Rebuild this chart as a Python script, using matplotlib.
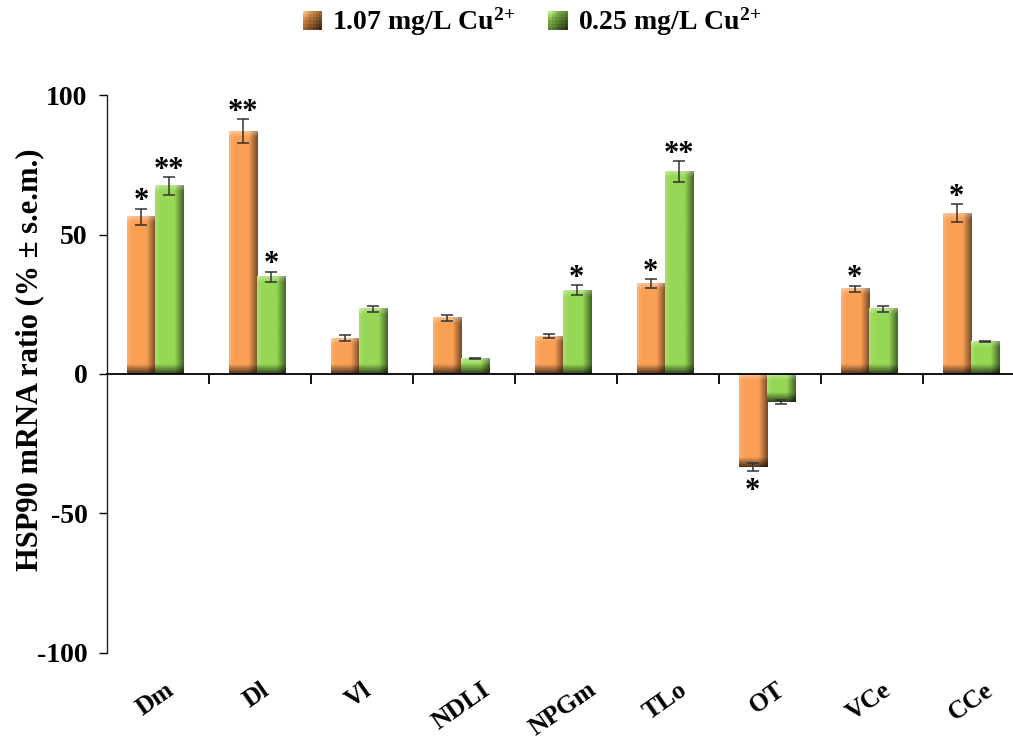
import numpy as np
import matplotlib
matplotlib.use("Agg")
import matplotlib.pyplot as plt
from matplotlib.patches import Rectangle
from matplotlib.legend_handler import HandlerBase
from matplotlib.transforms import blended_transform_factory

# data
regions = ["Dm", "Dl", "Vl", "NDLI", "NPGm", "TLo", "OT", "VCe", "CCe"]
high_cu = [56.3, 87.1, 12.9, 20.1, 13.6, 32.3, -33.3, 30.5, 57.7]
high_err = [3.0, 4.3, 0.9, 1.2, 0.8, 1.6, 1.5, 1.2, 3.1]
low_cu = [67.4, 34.8, 23.3, 5.5, 30.1, 72.5, -10.0, 23.3, 11.5]
low_err = [3.2, 1.8, 1.2, 0.3, 1.7, 3.7, 0.6, 1.2, 0.2]
high_stars = ["*", "**", "", "", "", "*", "*", "*", "*"]
low_stars = ["**", "*", "", "", "*", "**", "", "", ""]
series_names = ["1.07 mg/L Cu$^{2{+}}$", "0.25 mg/L Cu$^{2{+}}$"]

ORANGE = np.array([250, 160, 85]) / 255
GREEN = np.array([150, 216, 85]) / 255

plt.rcParams["font.family"] = "Liberation Serif"
plt.rcParams["font.weight"] = "bold"
plt.rcParams["mathtext.fontset"] = "custom"
plt.rcParams["mathtext.rm"] = "Liberation Serif:bold"
plt.rcParams["mathtext.bf"] = "Liberation Serif:bold"
plt.rcParams["mathtext.it"] = "Liberation Serif:bold"
plt.rcParams["mathtext.default"] = "rm"

fig = plt.figure(figsize=(10.13, 7.4), dpi=100)
ax = fig.add_axes([0.1056, 0.1176, 0.906, 0.754])
PX_PER_UNIT = 558 / 200


def bar_image(base, height_px, width_px=28):
    ny = max(int(round(height_px)), 2)
    nx = width_px
    u = (np.arange(nx) + 0.5) / nx
    shade_x = np.where(u < 0.68, 1.0, 1.0 - 0.55 * (u - 0.68) / 0.32)
    hl_x = np.clip(0.18 * (1 - u / 0.18), 0, None)
    d_bot = np.arange(ny) + 0.5  # rows from bottom (origin lower)
    d_top = ny - d_bot
    shade_y = np.where(d_bot < 10, 0.3 + 0.7 * d_bot / 10, 1.0)
    hl_y = np.clip(0.35 * (1 - d_top / 6), 0, None)
    shade = shade_y[:, None] * shade_x[None, :]
    hl = np.clip(hl_y[:, None] + hl_x[None, :] * (shade_y[:, None] > 0.9), 0, 0.5)
    img = base[None, None, :] * shade[:, :, None]
    img = img + (1 - img) * hl[:, :, None]
    return np.clip(img, 0, 1)


width = 0.275
shift = -0.03
x = np.arange(len(regions))
for vals, errs, stars, base, off in [
    (high_cu, high_err, high_stars, ORANGE, -width / 2),
    (low_cu, low_err, low_stars, GREEN, width / 2),
]:
    for xi, v, e, s in zip(x, vals, errs, stars):
        x0 = xi + shift + off - width / 2
        y0, y1 = min(0, v), max(0, v)
        img = bar_image(base, (y1 - y0) * PX_PER_UNIT)
        ax.imshow(img, extent=(x0, x0 + width, y0, y1), origin="lower",
                  aspect="auto", interpolation="bilinear", zorder=2)
        ax.errorbar(xi + shift + off, v, yerr=e, fmt="none", ecolor="#333333",
                    elinewidth=1.1, capsize=4, capthick=1.1, zorder=3)
        if s:
            if v >= 0:
                ax.text(xi + shift + off, v + e - 2.7, s, ha="center", va="bottom",
                        fontsize=22, zorder=4)
            else:
                ax.text(xi + shift + off, v - e - 12.5, s, ha="center", va="bottom",
                        fontsize=22, zorder=4)

ax.set_xlim(-0.5, 8.5)
ax.set_ylim(-100, 100)

for side in ["top", "right"]:
    ax.spines[side].set_visible(False)
ax.spines["bottom"].set_position(("data", 0))
ax.spines["bottom"].set_linewidth(1.3)
ax.spines["left"].set_linewidth(1.0)
ax.spines["left"].set_color("#222222")

ax.set_xticks(np.arange(len(regions)) + 0.5)
ax.set_xticklabels([])
ax.tick_params(axis="x", direction="out", length=7, width=1.3)
ax.set_yticks([-100, -50, 0, 50, 100])
ax.set_yticklabels(["-100", "-50", "0", "50", "100"])
ax.tick_params(axis="y", direction="out", length=6, width=1.0, pad=8, labelsize=20)

trans = blended_transform_factory(ax.transData, ax.transAxes)
for xi, name in zip(x, regions):
    ax.text(xi + shift, -0.045, name, transform=trans, rotation=35,
            ha="center", va="top", fontsize=18.5)

fig.text(30 / 1013, 1 - 360 / 740, "HSP90 mRNA ratio (% \u00b1 s.e.m.)",
         rotation=90, ha="center", va="center", fontsize=22)


class GradHandler(HandlerBase):
    def create_artists(self, legend, orig_handle, xdescent, ydescent,
                       width, height, fontsize, trans):
        base = orig_handle.get_facecolor()[:3]
        n = 6
        side = height
        x0 = -xdescent + (width - side) / 2
        y0 = -ydescent
        arts = []
        for i in range(n):
            for j in range(n):
                t = (i + (n - 1 - j)) / (2 * (n - 1))
                c = np.array(base) * (1 - 0.75 * t)
                if t < 0.3:
                    c = c + (1 - c) * (0.3 - t)
                r = Rectangle((x0 + i * side / n, y0 + j * side / n), side / n * 1.02,
                              side / n * 1.02, facecolor=np.clip(c, 0, 1),
                              edgecolor="none", transform=trans)
                arts.append(r)
        return arts


handles = [Rectangle((0, 0), 1, 1, facecolor=ORANGE), Rectangle((0, 0), 1, 1, facecolor=GREEN)]
fig.legend(handles, series_names, loc="center", bbox_to_anchor=(0.525, 0.970),
           ncol=2, frameon=False, fontsize=20, handlelength=0.7, handleheight=0.7,
           handletextpad=0.35, columnspacing=1.2,
           handler_map={Rectangle: GradHandler()})

fig.savefig("out.png", dpi=100)
